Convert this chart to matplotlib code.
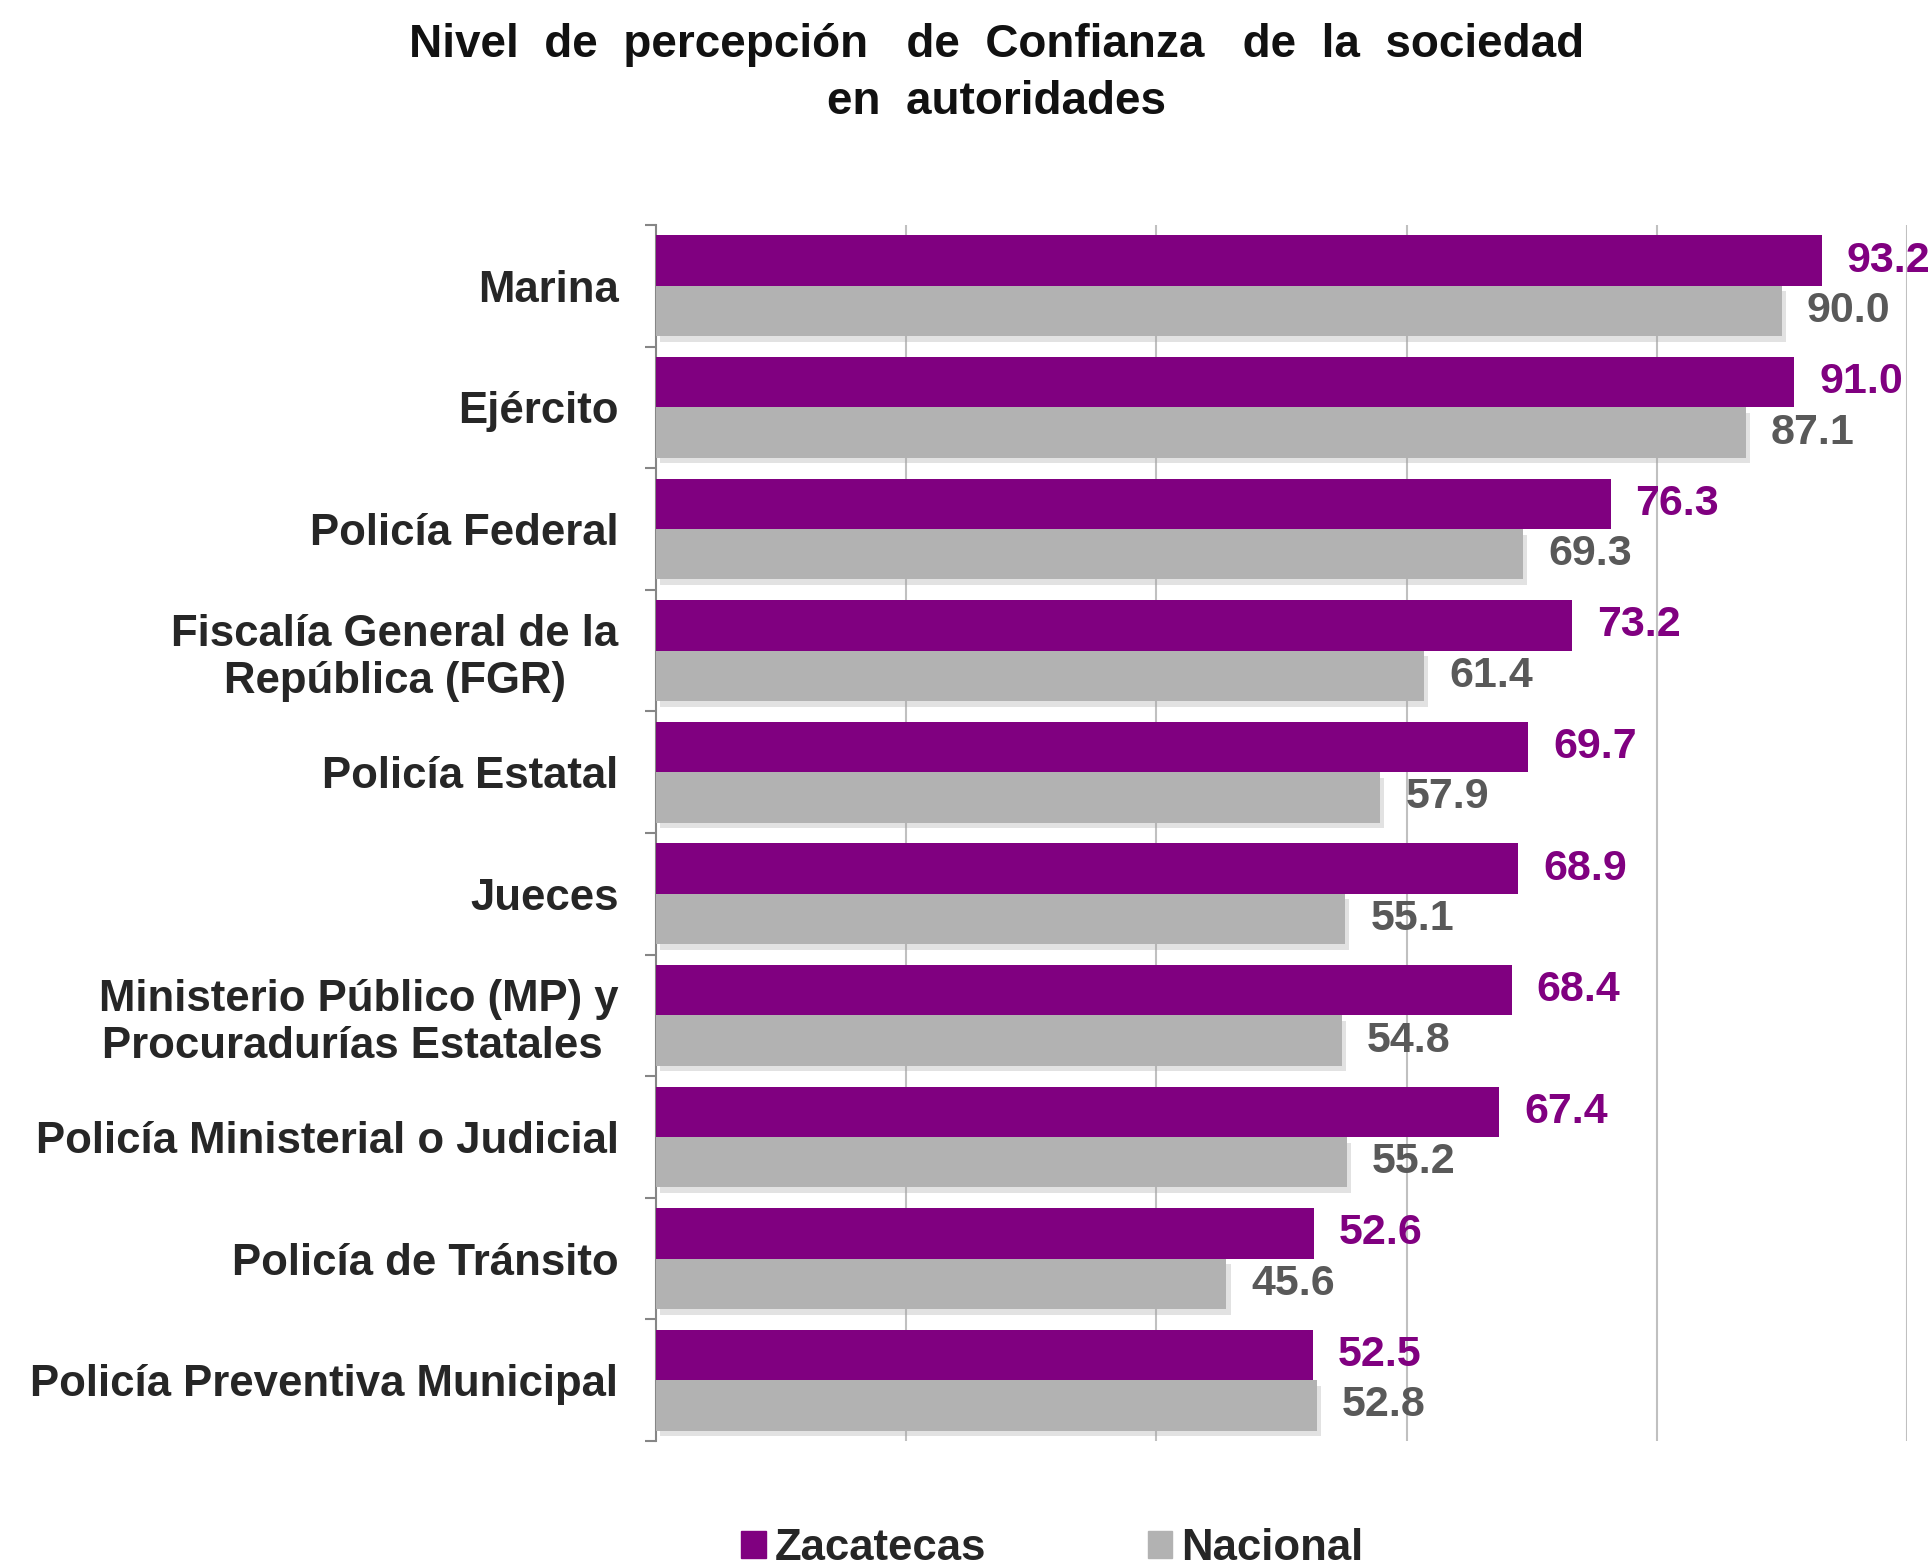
import matplotlib.pyplot as plt
import matplotlib.patheffects as pe
from matplotlib.patches import Patch
import numpy as np

plt.rcParams['font.family'] = ['Liberation Sans', 'DejaVu Sans']

categorias = ['Marina', 'Ejército', 'Policía Federal',
              'Fiscalía General de la\nRepública (FGR)', 'Policía Estatal',
              'Jueces', 'Ministerio Público (MP) y\nProcuradurías Estatales ',
              'Policía Ministerial o Judicial', 'Policía de Tránsito',
              'Policía Preventiva Municipal']
zacatecas = [93.2, 91.0, 76.3, 73.2, 69.7, 68.9, 68.4, 67.4, 52.6, 52.5]
nacional = [90.0, 87.1, 69.3, 61.4, 57.9, 55.1, 54.8, 55.2, 45.6, 52.8]
series = ['Zacatecas', 'Nacional']

morado = '#800080'
gris = '#b2b2b2'

fig = plt.figure(figsize=(19.31, 15.67), dpi=100)
ax = fig.add_axes([656 / 1931, 1 - 1441 / 1567, (1907 - 656) / 1931, (1441 - 225) / 1567])

y = np.arange(len(categorias))
h = 0.415
b1 = ax.barh(y - h / 2, zacatecas, height=h, color=morado, zorder=3)
b2 = ax.barh(y + h / 2, nacional, height=h, color=gris, zorder=3)
for r in b2:
    r.set_path_effects([pe.SimplePatchShadow(offset=(3, -4), shadow_rgbFace='#a0a0a0', alpha=0.3),
                        pe.Normal()])

for r, v in zip(b1, zacatecas):
    ax.annotate(f'{v:.1f}', (v, r.get_y() + r.get_height() / 2), xytext=(18, 0),
                textcoords='offset points', ha='left', va='center', fontsize=31,
                fontweight='bold', color=morado, annotation_clip=False)
for r, v in zip(b2, nacional):
    ax.annotate(f'{v:.1f}', (v, r.get_y() + r.get_height() / 2), xytext=(18, 0),
                textcoords='offset points', ha='left', va='center', fontsize=31,
                fontweight='bold', color='#595959', annotation_clip=False)

ax.set_xlim(0, 100)
ax.set_ylim(len(categorias) - 0.5, -0.5)
ax.set_xticks([20, 40, 60, 80, 100])
ax.xaxis.grid(True, color='#c0c0c0', lw=1.5, zorder=0)
ax.tick_params(axis='x', length=0, labelbottom=False)

ax.set_yticks(y)
ax.set_yticklabels(categorias, fontsize=31.5, fontweight='bold', color='#262626',
                   multialignment='center')
ax.set_yticks(np.arange(len(categorias) + 1) - 0.5, minor=True)
ax.tick_params(axis='y', which='major', length=0, pad=27)
ax.tick_params(axis='y', which='minor', length=8, width=1.5, color='#868686')

for s in ['top', 'right', 'bottom']:
    ax.spines[s].set_visible(False)
ax.spines['left'].set_color('#868686')
ax.spines['left'].set_linewidth(1.5)

fig.text(0.516, 1 - 45 / 1567, 'Nivel  de  percepción   de  Confianza   de  la  sociedad',
         ha='center', va='center', fontsize=33, fontweight='bold', color='#111111')
fig.text(0.516, 1 - 102 / 1567, 'en  autoridades', ha='center', va='center',
         fontsize=33, fontweight='bold', color='#111111')

handles = [Patch(color=morado), Patch(color=gris)]
fig.legend(handles, series, loc='center', bbox_to_anchor=(1052 / 1931, 1 - 1548 / 1567),
           ncol=2, frameon=False, prop={'size': 31.5, 'weight': 'bold'},
           handlelength=0.57, handleheight=0.57, handletextpad=0.2,
           columnspacing=3.7, borderpad=0, labelcolor='#262626')

fig.savefig('out.png', dpi=100)
